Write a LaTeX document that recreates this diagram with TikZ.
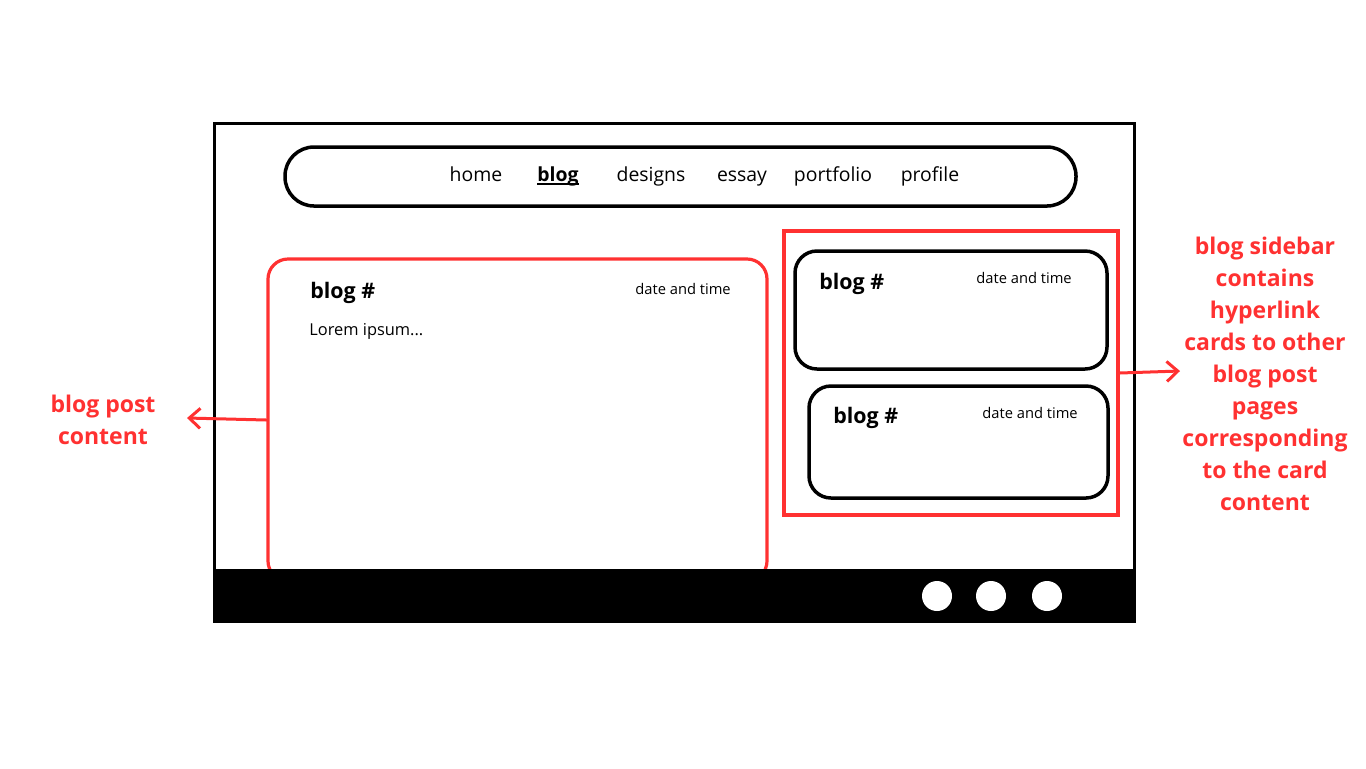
\documentclass[tikz,border=0pt]{standalone}
\usepackage{fontspec}
\setmainfont{Open Sans}
\usetikzlibrary{arrows.meta}
\definecolor{annred}{RGB}{255,49,49}
\tikzset{
  frame/.style={draw=black, line width=1.5pt},
  pill/.style={draw=black, line width=1.75pt, rounded corners=14.5pt, inner sep=0pt},
  card/.style={draw=black, line width=1.75pt, rounded corners=11pt, inner sep=0pt},
  redbox/.style={draw=annred, line width=1.6pt, inner sep=0pt},
  txt/.style={inner sep=0pt, text=black},
  navtxt/.style={txt, anchor=base, font=\fontsize{9.7}{12}\selectfont},
  titletxt/.style={txt, anchor=base west, font=\bfseries\fontsize{10.7}{13}\selectfont},
  datetxt/.style={txt, anchor=base west, font=\fontsize{7.35}{9}\selectfont},
  bodytxt/.style={txt, anchor=base west, font=\fontsize{8.2}{10}\selectfont},
  note/.style={inner sep=0pt, anchor=north, align=center, text=annred, font=\bfseries\fontsize{11.5}{16}\selectfont},
  redarrow/.style={draw=annred, line width=1.5pt, line cap=round, -{Straight Barb[length=5.5pt,width=10pt,line width=1.5pt]}},
  dot/.style={circle, fill=white, inner sep=0pt, minimum size=15pt},
}
\begin{document}
\begin{tikzpicture}[x=0.5pt, y=-0.5pt]
\useasboundingbox (0,0) rectangle (1366,768);
% outer browser frame
\node[frame, minimum width=460pt, minimum height=249pt] (window) at (674,372) {};
% navigation pill
\node[pill, minimum width=395.5pt, minimum height=29.5pt] (nav) at (680.5,176.5) {};
\node[navtxt] (nhome) at (476,181) {home};
\node[navtxt, font=\bfseries\fontsize{9.7}{12}\selectfont] (nblog) at (558,181) {blog};
\draw[line width=0.9pt] ([yshift=-1.5pt]nblog.base west) -- ([yshift=-1.5pt]nblog.base east);
\node[navtxt] (ndesigns) at (651,181) {designs};
\node[navtxt] (nessay) at (742,181) {essay};
\node[navtxt] (nportfolio) at (833,181) {portfolio};
\node[navtxt] (nprofile) at (930,181) {profile};
% main post box
\node[redbox, rounded corners=10pt, minimum width=249.5pt, minimum height=161pt] (post) at (517.5,420) {};
\node[titletxt] (ptitle) at (310,298) {blog \#};
\node[datetxt] (pdate) at (635,294) {date and time};
\node[bodytxt] (pbody) at (309,335) {Lorem ipsum...};
% sidebar
\node[redbox, minimum width=167pt, minimum height=142pt] (sidebar) at (951,373) {};
\node[card, minimum width=156pt, minimum height=59pt] (card1) at (951,310) {};
\node[titletxt] (c1title) at (819,289) {blog \#};
\node[datetxt] (c1date) at (976,283) {date and time};
\node[card, minimum width=149.5pt, minimum height=56pt] (card2) at (958.5,442) {};
\node[titletxt] (c2title) at (833,423) {blog \#};
\node[datetxt] (c2date) at (982,418) {date and time};
% footer bar
\fill[black] (213,569) rectangle (1136,622);
\node[dot] (d1) at (937,596) {};
\node[dot] (d2) at (991,596) {};
\node[dot] (d3) at (1047,596) {};
% annotations
\node[note] (leftnote) at (103,395) {blog post\\content};
\node[note] (rightnote) at (1265,237) {blog sidebar\\contains\\hyperlink\\cards to other\\blog post\\pages\\corresponding\\to the card\\content};
\coordinate (ltip) at (187,418);
\coordinate (rtip) at (1180,371);
\draw[redarrow] (post.west) -- (ltip);
\draw[redarrow] (sidebar.east) -- (rtip);
\end{tikzpicture}
\end{document}
